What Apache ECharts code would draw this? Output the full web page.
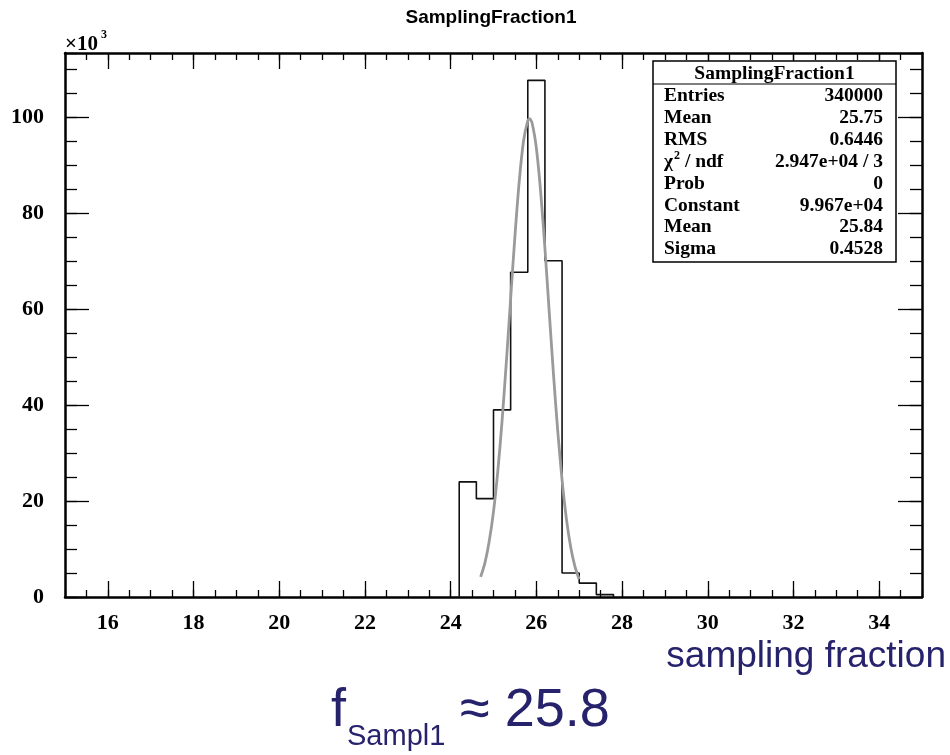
<!DOCTYPE html>
<html><head><meta charset="utf-8">
<script src="https://cdn.jsdelivr.net/npm/echarts@6/dist/echarts.min.js"></script>
<style>html,body{margin:0;padding:0;background:#fff}#c{width:950px;height:755px}</style>
</head><body><div id="c"></div>
<script>
// ---- data ----
const chartTitle = 'SamplingFraction1';
const xTickLabels = [16, 18, 20, 22, 24, 26, 28, 30, 32, 34];
const yTickLabels = [0, 20, 40, 60, 80, 100];
// histogram bin edges and contents (units of 10^3 entries)
const binEdges = [24.2, 24.6, 25.0, 25.4, 25.8, 26.2, 26.6, 27.0, 27.4, 27.8];
const binCounts = [24.0, 20.5, 39.0, 67.7, 107.7, 70.1, 5.0, 2.9, 0.5];
// gaussian fit curve (x, y in 10^3)
const fitX = [24.7, 24.8, 24.9, 25.0, 25.1, 25.2, 25.3, 25.4, 25.5, 25.6, 25.7, 25.8, 25.84, 25.9, 26.0, 26.1, 26.2, 26.3, 26.4, 26.5, 26.6, 26.7, 26.8, 26.9, 27.0];
const fitY = [4.2, 7.1, 11.6, 17.8, 26.2, 36.7, 49.0, 62.2, 75.2, 86.6, 95.0, 99.3, 99.7, 98.8, 93.6, 84.5, 72.7, 59.5, 46.4, 34.5, 24.4, 16.4, 10.5, 6.4, 3.7];
const statsHeader = 'SamplingFraction1';
const statsLabels = ['Entries', 'Mean', 'RMS', 'χ2 / ndf', 'Prob', 'Constant', 'Mean', 'Sigma'];
const statsValues = ['340000', '25.75', '0.6446', '2.947e+04 / 3', '0', '9.967e+04', '25.84', '0.4528'];
const xAxisTitle = 'sampling fraction';

// ---- build ----
const serif = '"Liberation Serif","Times New Roman",serif';
const sans = '"Liberation Sans",Arial,Helvetica,sans-serif';
const navy = '#26226c';
const X_MIN = 15, X_MAX = 35, Y_MIN = 0, Y_MAX = 113.4;

const histPts = [[binEdges[0], 0]];
for (let i = 0; i < binCounts.length; i++) {
  histPts.push([binEdges[i], binCounts[i]]);
  histPts.push([binEdges[i + 1], binCounts[i]]);
}
histPts.push([binEdges[binEdges.length - 1], 0]);
const fitPts = fitX.map((x, i) => [x, fitY[i]]);

const lineStyleAxis = { color: '#000', width: 2.5 };
function xAx(position, major, withLine, withLabel) {
  const a = {
    type: 'value', min: X_MIN, max: X_MAX, position, gridIndex: 0,
    splitLine: { show: false },
    axisLine: { show: withLine, onZero: false, lineStyle: lineStyleAxis },
    axisTick: { show: true, inside: true, length: major ? 16 : 7, lineStyle: { color: '#000', width: 1.3 } },
    axisLabel: { show: withLabel, margin: 15, color: '#000', fontFamily: serif, fontWeight: 'bold', fontSize: 22 }
  };
  if (major) { a.axisTick.customValues = xTickLabels; a.axisLabel.customValues = xTickLabels; }
  else { a.interval = 0.5; }
  return a;
}
function yAx(position, major, withLine, withLabel) {
  const a = {
    type: 'value', min: Y_MIN, max: Y_MAX, position, gridIndex: 0,
    splitLine: { show: false },
    axisLine: { show: withLine, onZero: false, lineStyle: lineStyleAxis },
    axisTick: { show: true, inside: true, length: major ? 24 : 12, lineStyle: { color: '#000', width: 1.3 } },
    axisLabel: { show: withLabel, margin: 21, color: '#000', fontFamily: serif, fontWeight: 'bold', fontSize: 22 }
  };
  if (major) { a.axisTick.customValues = yTickLabels; a.axisLabel.customValues = yTickLabels; }
  else { a.interval = 5; }
  return a;
}

const graphics = [];
graphics.push({ type: 'text', z: 100, style: { text: chartTitle, x: 491, y: 18, align: 'center', verticalAlign: 'middle', font: 'bold 19px ' + sans, fill: '#000' } });
graphics.push({ type: 'text', z: 100, style: { text: '×10', x: 65, y: 45, align: 'left', verticalAlign: 'middle', font: 'bold 21px ' + serif, fill: '#000' } });
graphics.push({ type: 'text', z: 100, style: { text: '3', x: 101, y: 35, align: 'left', verticalAlign: 'middle', font: 'bold 12px ' + serif, fill: '#000' } });

// stats box
const bx = 653, by = 61, bw = 243, bh = 201, hdr = 23, rowH = 21.9;
const sFont = 'bold 19.5px ' + serif;
graphics.push({ type: 'rect', z: 50, shape: { x: bx, y: by, width: bw, height: bh }, style: { fill: '#fff', stroke: '#000', lineWidth: 1.5 } });
graphics.push({ type: 'line', z: 51, shape: { x1: bx, y1: by + hdr, x2: bx + bw, y2: by + hdr }, style: { stroke: '#000', lineWidth: 1.2 } });
graphics.push({ type: 'text', z: 52, style: { text: statsHeader, x: bx + bw / 2, y: by + hdr / 2 + 1, align: 'center', verticalAlign: 'middle', font: sFont, fill: '#000' } });
statsLabels.forEach((lab, i) => {
  const yy = by + hdr + 12 + i * rowH;
  if (lab.startsWith('χ2')) {
    graphics.push({ type: 'text', z: 52, style: { text: 'χ', x: 664, y: yy, align: 'left', verticalAlign: 'middle', font: sFont, fill: '#000' } });
    graphics.push({ type: 'text', z: 52, style: { text: '2', x: 674, y: yy - 6, align: 'left', verticalAlign: 'middle', font: 'bold 12px ' + serif, fill: '#000' } });
    graphics.push({ type: 'text', z: 52, style: { text: lab.slice(2), x: 680, y: yy, align: 'left', verticalAlign: 'middle', font: sFont, fill: '#000' } });
  } else {
    graphics.push({ type: 'text', z: 52, style: { text: lab, x: 664, y: yy, align: 'left', verticalAlign: 'middle', font: sFont, fill: '#000' } });
  }
  graphics.push({ type: 'text', z: 52, style: { text: statsValues[i], x: 883, y: yy, align: 'right', verticalAlign: 'middle', font: sFont, fill: '#000' } });
});

// bottom annotations
graphics.push({ type: 'text', z: 100, style: { text: xAxisTitle, x: 946, y: 657, align: 'right', verticalAlign: 'middle', font: '37px ' + sans, fill: navy } });
graphics.push({ type: 'text', z: 100, style: { text: 'f', x: 331, y: 711, align: 'left', verticalAlign: 'middle', font: '54px ' + sans, fill: navy } });
graphics.push({ type: 'text', z: 100, style: { text: 'Sampl1', x: 347, y: 737, align: 'left', verticalAlign: 'middle', font: '29px ' + sans, fill: navy } });
graphics.push({ type: 'text', z: 100, style: { text: '≈ 25.8', x: 460, y: 711, align: 'left', verticalAlign: 'middle', font: '54px ' + sans, fill: navy } });

const option = {
  animation: false,
  backgroundColor: '#fff',
  grid: { left: 65, right: 28, top: 53, bottom: 158, containLabel: false },
  xAxis: [xAx('bottom', false, true, false), xAx('bottom', true, false, true), xAx('top', false, true, false), xAx('top', true, false, false)],
  yAxis: [yAx('left', false, true, false), yAx('left', true, false, true), yAx('right', false, true, false), yAx('right', true, false, false)],
  series: [
    { type: 'line', xAxisIndex: 0, yAxisIndex: 0, data: histPts, showSymbol: false, symbol: 'none', lineStyle: { color: '#111', width: 1.6 }, z: 3 },
    { type: 'line', xAxisIndex: 0, yAxisIndex: 0, data: fitPts, showSymbol: false, symbol: 'none', smooth: 0.3, lineStyle: { color: '#9a9a9a', width: 2.8 }, z: 4 }
  ],
  graphic: graphics
};
const chart = echarts.init(document.getElementById('c'), null, { renderer: 'canvas' });
chart.setOption(option);
</script>
</body></html>
